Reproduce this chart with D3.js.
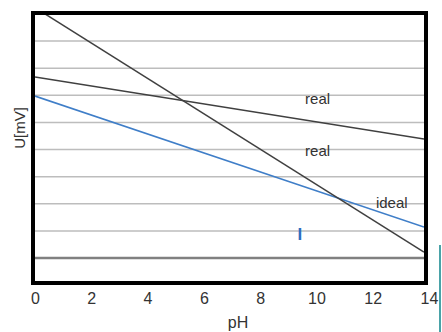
<!DOCTYPE html>
<html>
<head>
<meta charset="utf-8">
<script src="https://cdn.jsdelivr.net/npm/d3@7"></script>
<style>
  body { margin: 0; background: #fff; }
  text { font-family: "Liberation Sans", Arial, sans-serif; }
</style>
</head>
<body>
<div id="chart"></div>
<script>
// pH end points and the three lines (U in grid units)
const phValues = [0, 14];
const realSteep = [9.23, 0.22];
const realFlat = [6.67, 4.39];
const ideal = [5.97, 1.14];

const gridValues = [1, 2, 3, 4, 5, 6, 7, 8];
const xTickValues = [0, 2, 4, 6, 8, 10, 12, 14];

const labels = [
  { text: "real", ph: 9.72, u: 5.68, color: "#333", size: 15, weight: "normal" },
  { text: "real", ph: 9.72, u: 3.76, color: "#333", size: 15, weight: "normal" },
  { text: "ideal", ph: 12.27, u: 1.84, color: "#333", size: 15, weight: "normal" },
  { text: "I", ph: 9.45, u: 0.66, color: "#2f6fc0", size: 17, weight: "bold" }
];

const width = 442, height = 332;
const plot = { left: 35, right: 424, top: 15, bottom: 281 };

const svg = d3.select("#chart").append("svg")
  .attr("width", width)
  .attr("height", height);

const x = d3.scaleLinear().domain([0, 14]).range([plot.left, plot.right]);
const y = d3.scaleLinear().domain([0, 8]).range([258, 41]);

// tick labels sit a little wider than the plot area
const xLabel = d3.scaleLinear().domain([0, 14]).range([35, 429]);

svg.append("clipPath").attr("id", "clip")
  .append("rect")
  .attr("x", plot.left).attr("y", plot.top)
  .attr("width", plot.right - plot.left)
  .attr("height", plot.bottom - plot.top);

const g = svg.append("g").attr("clip-path", "url(#clip)");

// gridlines
g.selectAll(".grid")
  .data(gridValues)
  .enter().append("line")
  .attr("x1", plot.left).attr("x2", plot.right)
  .attr("y1", d => y(d)).attr("y2", d => y(d))
  .attr("stroke", "#bdbdbd")
  .attr("stroke-width", 1.5);

// zero line
g.append("line")
  .attr("x1", plot.left).attr("x2", plot.right)
  .attr("y1", y(0)).attr("y2", y(0))
  .attr("stroke", "#808080")
  .attr("stroke-width", 2.5);

const line = d3.line()
  .x((d, i) => x(phValues[i]))
  .y(d => y(d));

g.append("path").datum(ideal)
  .attr("d", line)
  .attr("fill", "none")
  .attr("stroke", "#3f7ec8")
  .attr("stroke-width", 1.6);

g.append("path").datum(realFlat)
  .attr("d", line)
  .attr("fill", "none")
  .attr("stroke", "#404040")
  .attr("stroke-width", 1.5);

g.append("path").datum(realSteep)
  .attr("d", line)
  .attr("fill", "none")
  .attr("stroke", "#404040")
  .attr("stroke-width", 1.5);

// labels in the plot
svg.selectAll(".lbl")
  .data(labels)
  .enter().append("text")
  .attr("x", d => x(d.ph))
  .attr("y", d => y(d.u))
  .attr("fill", d => d.color)
  .style("font-size", d => d.size + "px")
  .style("font-weight", d => d.weight)
  .text(d => d.text);

// frame
svg.append("rect")
  .attr("x", 33).attr("y", 13)
  .attr("width", 393).attr("height", 270)
  .attr("fill", "none")
  .attr("stroke", "#000")
  .attr("stroke-width", 4);

// x axis labels
const xAxis = svg.append("g")
  .attr("transform", "translate(0,285)")
  .call(d3.axisBottom(xLabel).tickValues(xTickValues).tickSize(0).tickPadding(8).tickFormat(d3.format("d")));
xAxis.select(".domain").remove();
xAxis.selectAll("text")
  .attr("fill", "#333")
  .style("font-size", "16px")
  .style("font-family", "'Liberation Sans', Arial, sans-serif");

svg.append("text")
  .attr("x", 238)
  .attr("y", 328)
  .attr("text-anchor", "middle")
  .attr("fill", "#333")
  .style("font-size", "16px")
  .text("pH");

svg.append("text")
  .attr("transform", "translate(25,128) rotate(-90)")
  .attr("text-anchor", "middle")
  .attr("fill", "#333")
  .style("font-size", "15px")
  .text("U[mV]");

// teal edge on the right
svg.append("line")
  .attr("x1", 440).attr("x2", 440)
  .attr("y1", 245).attr("y2", height)
  .attr("stroke", "#4aa3a8")
  .attr("stroke-width", 2);
</script>
</body>
</html>
